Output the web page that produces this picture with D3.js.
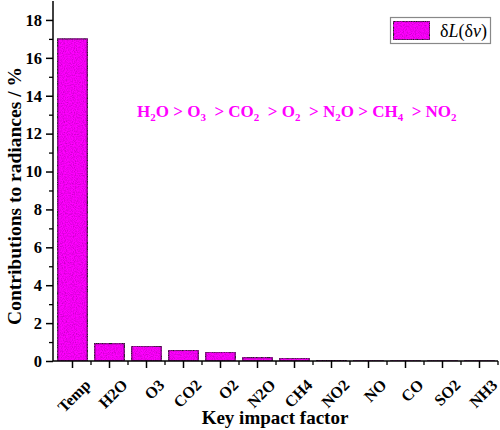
<!DOCTYPE html>
<html><head><meta charset="utf-8">
<script src="https://cdn.jsdelivr.net/npm/d3@7"></script>
<style>body{margin:0;background:#fff}svg{display:block}</style>
</head><body>
<svg id="c" width="500" height="430"></svg>
<script>
const categories = ["Temp","H2O","O3","CO2","O2","N2O","CH4","NO2","NO","CO","SO2","NH3"];
const values = [17.0,0.92,0.78,0.56,0.47,0.18,0.15,0.03,0.005,0.004,0.004,0.004];
const yTicks = [0,2,4,6,8,10,12,14,16,18];
const ranking = [["H","2","O"],["O","3",""],["CO","2",""],["O","2",""],["N","2","O"],["CH","4",""],["NO","2",""]];

const svg = d3.select("#c");
const font = "'Liberation Serif','Times New Roman',serif";
const mag = "#ff00ff";

// texture
const defs = svg.append("defs");
const filt = defs.append("filter").attr("id","tex").attr("x",0).attr("y",0).attr("width",1).attr("height",1);
filt.append("feTurbulence").attr("type","fractalNoise").attr("baseFrequency",0.9).attr("numOctaves",2).attr("seed",3).attr("result","n");
filt.append("feColorMatrix").attr("in","n").attr("type","matrix")
  .attr("values","0 0 0 0 0.6  0 0 0 0 0  0 0 0 0 0.6  0 0 0 -2.2 1.4").attr("result","m");
filt.append("feComposite").attr("in","m").attr("in2","SourceGraphic").attr("operator","in").attr("result","m2");
filt.append("feMerge").call(s=>{s.append("feMergeNode").attr("in","SourceGraphic");s.append("feMergeNode").attr("in","m2");});

const x0 = 53, x1 = 498, yTop = 1, yBot = 361;
const x = d3.scaleBand().domain(categories).range([x0+1, x1]).paddingInner(0.2).paddingOuter(0.1);
const y = d3.scaleLinear().domain([0,19]).range([yBot, yTop]);

// bars
svg.append("g").selectAll("rect").data(categories).join("rect")
  .attr("x", d=>x(d)).attr("width", x.bandwidth())
  .attr("y", (d,i)=>y(values[i])).attr("height",(d,i)=>yBot - y(values[i]))
  .attr("fill", mag).attr("filter","url(#tex)")
  .attr("stroke","#222").attr("stroke-width",1.3);

// y axis
const yAxis = d3.axisLeft(y).tickValues(yTicks).tickSize(7).tickPadding(4).tickFormat(d3.format("d"));
const gy = svg.append("g").attr("transform",`translate(${x0},0)`).call(yAxis);
gy.select(".domain").attr("stroke","#000").attr("stroke-width",1.5).attr("d",`M0,${yTop}V${yBot}`);
gy.selectAll(".tick line").attr("stroke","#000").attr("stroke-width",1.5);
gy.selectAll(".tick text").attr("font-family",font).attr("font-weight","bold").attr("font-size",16.5).attr("fill","#000");
const yMinor = d3.axisLeft(y).tickValues(d3.range(1,19,2)).tickSize(4).tickFormat("");
const gym = svg.append("g").attr("transform",`translate(${x0},0)`).call(yMinor);
gym.select(".domain").remove();
gym.selectAll(".tick line").attr("stroke","#000").attr("stroke-width",1.3);

// x axis
const xAxis = d3.axisBottom(x).tickSize(7).tickSizeOuter(0).tickPadding(3);
const gx = svg.append("g").attr("transform",`translate(0,${yBot})`).call(xAxis);
gx.select(".domain").attr("stroke","#000").attr("stroke-width",1.5).attr("d",`M${x0},0H${x1}`);
gx.selectAll(".tick line").attr("stroke","#000").attr("stroke-width",1.5);
gx.selectAll(".tick text").attr("font-family",font).attr("font-weight","bold").attr("font-size",16).attr("fill","#000")
  .attr("text-anchor","end").attr("dy","0.35em")
  .attr("transform","translate(8,14) rotate(-45)");
// minor ticks between categories
const step = x.step();
const bounds = categories.slice(1).map(c => x(c) - step*x.paddingInner()/2);
svg.append("g").selectAll("line").data(bounds.concat([x1])).join("line")
  .attr("x1",d=>d).attr("x2",d=>d).attr("y1",yBot).attr("y2",yBot+4)
  .attr("stroke","#000").attr("stroke-width",1.3);

// axis titles
svg.append("text").attr("x",275).attr("y",424).attr("text-anchor","middle")
  .attr("font-family",font).attr("font-weight","bold").attr("font-size",19).text("Key impact factor");
svg.append("text").attr("transform","translate(21,196) rotate(-90)").attr("text-anchor","middle")
  .attr("font-family",font).attr("font-weight","bold").attr("font-size",19.5).text("Contributions to radiances / %");

// legend
const lg = svg.append("g");
lg.append("rect").attr("x",390.5).attr("y",17.5).attr("width",100).attr("height",26)
  .attr("fill","#fff").attr("stroke","#888").attr("stroke-width",1.2);
lg.append("rect").attr("x",393.5).attr("y",21.5).attr("width",36).attr("height",18)
  .attr("fill",mag).attr("filter","url(#tex)").attr("stroke","#222").attr("stroke-width",1);
const lt = lg.append("text").attr("x",440).attr("y",37).attr("font-family",font).attr("font-size",18).attr("fill","#000");
lt.append("tspan").text("δ");
lt.append("tspan").attr("font-style","italic").text("L");
lt.append("tspan").text("(δ");
lt.append("tspan").attr("font-style","italic").text("ν");
lt.append("tspan").text(")");

// annotation
const at = svg.append("text").attr("x",137).attr("y",117).attr("font-family",font)
  .attr("font-weight","bold").attr("font-size",17).attr("fill",mag).attr("xml:space","preserve");
let pendingDy = 0;
ranking.forEach((r,i)=>{
  const prevEndsSub = i>0 && ranking[i-1][2] === "";
  const pre = i>0 ? (prevEndsSub ? "  > " : " > ") : "";
  at.append("tspan").attr("dy",pendingDy).attr("xml:space","preserve").text(pre + r[0]);
  at.append("tspan").attr("font-size",11).attr("dy",4).text(r[1]);
  pendingDy = -4;
  if(r[2]){ at.append("tspan").attr("dy",-4).text(r[2]); pendingDy = 0; }
});
</script>
</body></html>
